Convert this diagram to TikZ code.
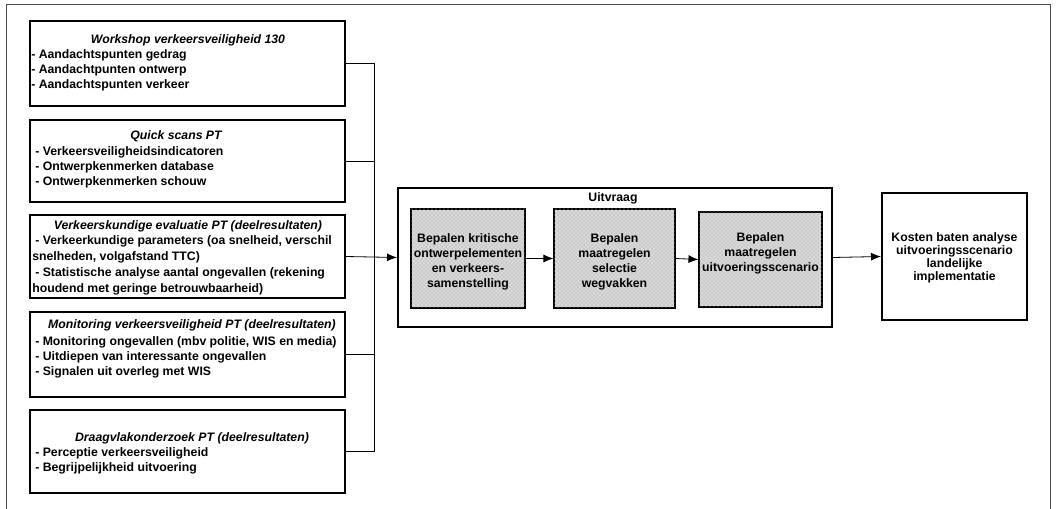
\documentclass[tikz,border=0pt]{standalone}
\usepackage{fontspec}
\setmainfont{Liberation Sans}
\usetikzlibrary{fit,patterns,arrows.meta}
\newcommand\fsz{\fontsize{9.2}{11.25}\selectfont\bfseries}
\newcommand\ksz{\fontsize{9.2}{9.9}\selectfont\bfseries}
\begin{document}
\begin{tikzpicture}[x=0.75pt,y=-0.75pt,
  box/.style={draw, line width=1.5pt, inner sep=0pt},
  frameline/.style={draw=black!70, line width=0.6pt},
  conn/.style={draw, line width=0.6pt},
  arr/.style={conn, -{Latex[length=7.5pt,width=6pt]}},
  shade/.style={draw, line width=0.8pt, inner sep=0pt, fill=gray!30,
     postaction={pattern=crosshatch dots, pattern color=gray!80}},
  ttl/.style={font=\fsz\itshape, anchor=base, inner sep=0pt},
  itm/.style={font=\fsz, anchor=base west, inner sep=0pt},
  ctr/.style={font=\fsz, align=center, inner sep=0pt}
]
\useasboundingbox (0,0) rectangle (1056,509);
% outer frame
\draw[frameline] (6,509) -- (6,4) -- (1050,4) -- (1050,509);

% left boxes
\node[box, fit={(30,21) (345,106)}] (b1) {};
\node[box, fit={(30,120) (345,202)}] (b2) {};
\node[box, fit={(30,215) (345,298)}] (b3) {};
\node[box, fit={(30,312) (345,397)}] (b4) {};
\node[box, fit={(30,410) (345,493)}] (b5) {};

% Workshop
\node[ttl] (t1) at (188,44) {Workshop verkeersveiligheid 130};
\node[itm] (t1a) at (31,59) {- Aandachtspunten gedrag};
\node[itm] (t1b) at (31,74) {- Aandachtpunten ontwerp};
\node[itm] (t1c) at (31,89) {- Aandachtspunten verkeer};
% Quick scans
\node[ttl] (t2) at (176,140) {Quick scans PT};
\node[itm] (t2a) at (35,156) {- Verkeersveiligheidsindicatoren};
\node[itm] (t2b) at (35,171) {- Ontwerpkenmerken database};
\node[itm] (t2c) at (35,186) {- Ontwerpkenmerken schouw};
% Verkeerskundige
\node[ttl] (t3) at (188,230) {Verkeerskundige evaluatie PT (deelresultaten)};
\node[itm] (t3a) at (35,245) {- Verkeerkundige parameters (oa snelheid, verschil};
\node[itm] (t3b) at (32,261) {snelheden, volgafstand TTC)};
\node[itm] (t3c) at (35,277) {- Statistische analyse aantal ongevallen (rekening};
\node[itm] (t3d) at (32,293) {houdend met geringe betrouwbaarheid)};
% Monitoring
\node[ttl] (t4) at (192,329) {Monitoring verkeersveiligheid PT (deelresultaten)};
\node[itm] (t4a) at (35,345) {- Monitoring ongevallen (mbv politie, WIS en media)};
\node[itm] (t4b) at (35,360) {- Uitdiepen van interessante ongevallen};
\node[itm] (t4c) at (35,375) {- Signalen uit overleg met WIS};
% Draagvlak
\node[ttl] (t5) at (192,441) {Draagvlakonderzoek PT (deelresultaten)};
\node[itm] (t5a) at (35,456) {- Perceptie verkeersveiligheid};
\node[itm] (t5b) at (35,471) {- Begrijpelijkheid uitvoering};

% Uitvraag
\node[box, fit={(398,188) (832,327)}] (uit) {};
\node[font=\fsz, anchor=base, inner sep=0pt] (uitt) at (613,202) {Uitvraag};
\node[shade, fit={(411,209) (525,308)}] (i1) {};
\node[shade, fit={(554,209) (675,308)}] (i2) {};
\node[shade, fit={(699,212) (822,307)}] (i3) {};
\node[ctr] (i1t) at (468,262) {Bepalen kritische\\ontwerpelementen\\en verkeers-\\samenstelling};
\node[ctr] (i2t) at (614.5,262) {Bepalen\\maatregelen\\selectie\\wegvakken};
\node[ctr] (i3t) at (760.5,253) {Bepalen\\maatregelen\\uitvoeringsscenario};

% Kosten
\node[box, fit={(882,193) (1027,320)}] (kos) {};
\node[font=\ksz, align=center, inner sep=0pt] (kost) at (954.5,258) {Kosten baten analyse\\uitvoeringsscenario\\landelijke\\implementatie};

% connectors
\coordinate (bus) at (374,0);
\draw[conn] (b1.east) -- (b1.east -| bus) -- (b5.east -| bus) -- (b5.east);
\draw[conn] (b2.east) -- (b2.east -| bus);
\draw[conn] (b4.east) -- (b4.east -| bus);
\draw[arr] (b3.east) -- (uit.west);
\draw[arr] (i1.east) -- (i2.west);
\draw[arr] (i2.east) -- (i3.west);
\draw[arr] (uit.east) -- (kos.west);
\end{tikzpicture}
\end{document}
